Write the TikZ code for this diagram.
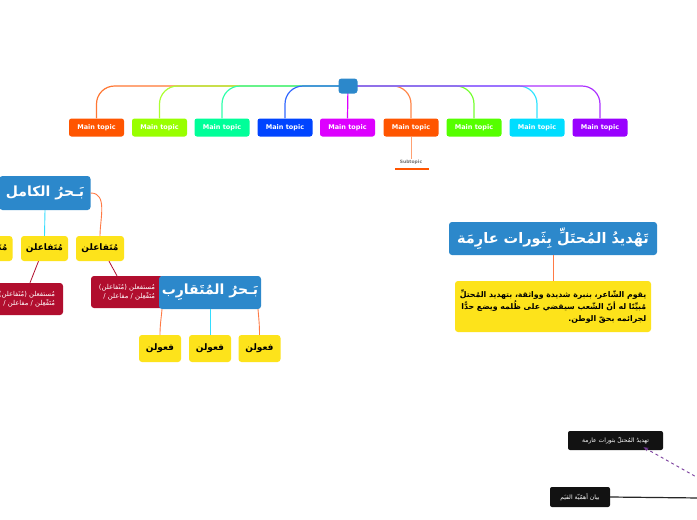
\documentclass[tikz,border=0pt]{standalone}
\usepackage{fontspec}
\setmainfont{DejaVu Sans}
\newfontfamily\arabicfont[Script=Arabic]{DejaVu Sans}
\TeXXeTstate=1
\usetikzlibrary{arrows.meta}
\definecolor{cblue}{HTML}{2C88CB}
\definecolor{cyell}{HTML}{FDE31B}
\definecolor{cred}{HTML}{B10E2E}
\definecolor{corg}{HTML}{FF7A45}
\definecolor{ccyan}{HTML}{33DDFF}
\definecolor{mA}{HTML}{FF5500}
\definecolor{mB}{HTML}{99FF00}
\definecolor{mC}{HTML}{00FF99}
\definecolor{mD}{HTML}{0044FF}
\definecolor{mE}{HTML}{DD00FF}
\definecolor{mF}{HTML}{FF5500}
\definecolor{mG}{HTML}{55FF00}
\definecolor{mH}{HTML}{00DDFF}
\definecolor{mI}{HTML}{9900FF}
\definecolor{cpurp}{HTML}{7A3E9D}
\tikzset{
  maintopic/.style={rounded corners=2.5, minimum width=55, minimum height=18, inner sep=0,
    text=white, font=\fontsize{6.5}{8}\selectfont\bfseries},
  topconn/.style={line width=1.2, rounded corners=18},
  titlebox/.style={fill=cblue, rounded corners=3, inner sep=0, text=white,
    font=\arabicfont\bfseries\fontsize{14}{17}\selectfont},
  yellowbox/.style={fill=cyell, rounded corners=3, inner sep=0, text=black,
    font=\arabicfont\bfseries\fontsize{9}{11}\selectfont},
  redbox/.style={fill=cred, rounded corners=3, inner sep=0, text=white, align=right,
    font=\arabicfont\fontsize{6.8}{9.5}\selectfont},
  blackbox/.style={fill=black!93, rounded corners=2, inner sep=0, text=white,
    font=\arabicfont\fontsize{6}{7}\selectfont},
  orgline/.style={corg, line width=0.9},
  cyanline/.style={ccyan, line width=0.9},
  redline/.style={cred, line width=0.8},
}
\begin{document}
\begin{tikzpicture}[x=1pt,y=-1pt]
\useasboundingbox (0,0) rectangle (697,520);
\clip (0,0) rectangle (697,520);
\fill[white] (0,0) rectangle (697,520);

% ---------- top: central node and main topics
\node[maintopic, fill=mA] (m1) at (96.5,127.5) {Main topic};
\node[maintopic, fill=mB] (m2) at (159.5,127.5) {Main topic};
\node[maintopic, fill=mC] (m3) at (222,127.5) {Main topic};
\node[maintopic, fill=mD] (m4) at (285,127.5) {Main topic};
\node[maintopic, fill=mE] (m5) at (347.5,127.5) {Main topic};
\node[maintopic, fill=mF] (m6) at (411,127.5) {Main topic};
\node[maintopic, fill=mG] (m7) at (474,127.5) {Main topic};
\node[maintopic, fill=mH] (m8) at (537,127.5) {Main topic};
\node[maintopic, fill=mI] (m9) at (600,127.5) {Main topic};
\coordinate (hub) at (348,86);
\draw[topconn, mA!80] (hub) -| (m1.north);
\draw[topconn, mB!80] (hub) -| (m2.north);
\draw[topconn, mC!80] (hub) -| (m3.north);
\draw[topconn, mD!80] (hub) -| (m4.north);
\draw[topconn, mE] (hub) -- (m5.north);
\draw[topconn, mF!70] (hub) -| (m6.north);
\draw[topconn, mG!80] (hub) -| (m7.north);
\draw[topconn, mH!80] (hub) -| (m8.north);
\draw[topconn, mI!80] (hub) -| (m9.north);
\node[fill=cblue, rounded corners=3, minimum width=19, minimum height=15, inner sep=0] (c) at (hub) {};

% subtopic
\node[text=black!55, font=\fontsize{4.5}{5}\selectfont\bfseries, inner sep=0.5] (sub) at (411,162) {Subtopic};
\draw[mF!55, line width=0.8] (m6.south) -- (sub.north);
\coordinate (ulA) at (395,169);
\coordinate (ulB) at (429,169);
\draw[mF, line width=2.2] (ulA) -- (ulB);

% ---------- left tree: bahr al-kamil
\node[titlebox, minimum width=91, minimum height=34] (kamil) at (45,193) {\beginR بَـحرُ الكامل\endR};
\node[yellowbox, minimum width=47, minimum height=25] (ka) at (44.5,248.5) {\beginR مُتَفاعلن\endR};
\node[yellowbox, minimum width=48, minimum height=25] (kb) at (100,248.5) {\beginR مُتَفاعلن\endR};
\node[yellowbox, minimum width=47, minimum height=25] (kc) at (-11,248.5) {\beginR مُتَفاعلن\endR};
\draw[cyanline] (kamil.south) -- (ka.north);
\draw[orgline] (kamil.east) to[out=0,in=90] (kb.north);

\node[redbox, minimum width=72, minimum height=32] (r1) at (27,299)
  {\beginR مُستفعلن (مُتَفاعلن)\endR\\\beginR مُتَفْعِلن / مفاعلن /\endR};
\node[redbox, minimum width=72, minimum height=32] (r2) at (127,292)
  {\beginR مُستفعلن (مُتَفاعلن)\endR\\\beginR مُتَفْعِلن / مفاعلن /\endR};
\draw[redline] ([xshift=-6]ka.south) -- ([xshift=3]r1.north);
\draw[redline] ([xshift=9]kb.south) -- ([xshift=-10]r2.north);

% ---------- bahr al-mutaqarib
\node[titlebox, minimum width=102, minimum height=33] (mq) at (210,292.5) {\beginR بَـحرُ المُتَقارِب\endR};
\node[yellowbox, minimum width=42, minimum height=27] (f1) at (160,348.5) {\beginR فعولن\endR};
\node[yellowbox, minimum width=42, minimum height=27] (f2) at (210,348.5) {\beginR فعولن\endR};
\node[yellowbox, minimum width=42, minimum height=27] (f3) at (259.5,348.5) {\beginR فعولن\endR};
\draw[orgline] ([xshift=-48]mq.south) to[out=-95,in=90] (f1.north);
\draw[cyanline] (mq.south) -- (f2.north);
\draw[orgline] ([xshift=48]mq.south) to[out=-85,in=90] (f3.north);

% ---------- right: title and body
\node[titlebox, minimum width=208, minimum height=33, font=\arabicfont\bfseries\fontsize{14.5}{17}\selectfont] (th) at (553,238.5)
  {\beginR تَهْديدُ المُحتَلِّ بِثَورات عارِمَة\endR};
\node[yellowbox, minimum width=196, minimum height=51, align=right,
  font=\arabicfont\bfseries\fontsize{7.8}{12}\selectfont] (tb) at (553,306.5)
  {\beginR يقوم الشّاعر، بنبرة شديدة وواثقة، بتهديد المُحتلِّ\endR\\
   \beginR مُبيِّنًا له أنّ الشّعب سيقضي على ظُلمه ويضع حدًّا\endR\\
   \beginR لجرائمه بحقّ الوطن.\endR};
\draw[orgline] (th.south) -- (tb.north);

% ---------- bottom right
\node[blackbox, minimum width=95, minimum height=19] (bk1) at (615.5,440.5) {\beginR تهديدُ المُحتلّ بثورات عارمة\endR};
\node[blackbox, minimum width=60, minimum height=20] (bk2) at (580,497) {\beginR بيان أهمّيّة القيَم\endR};
\coordinate (dashend) at (700,479);
\coordinate (lineend) at (700,498);
\draw[cpurp, dashed, line width=0.9, -{Stealth[length=5pt]}] (dashend) -- ([xshift=28,yshift=3]bk1.south);
\draw[black!85, line width=1.2] (bk2.east) -- (lineend);
\end{tikzpicture}
\end{document}
